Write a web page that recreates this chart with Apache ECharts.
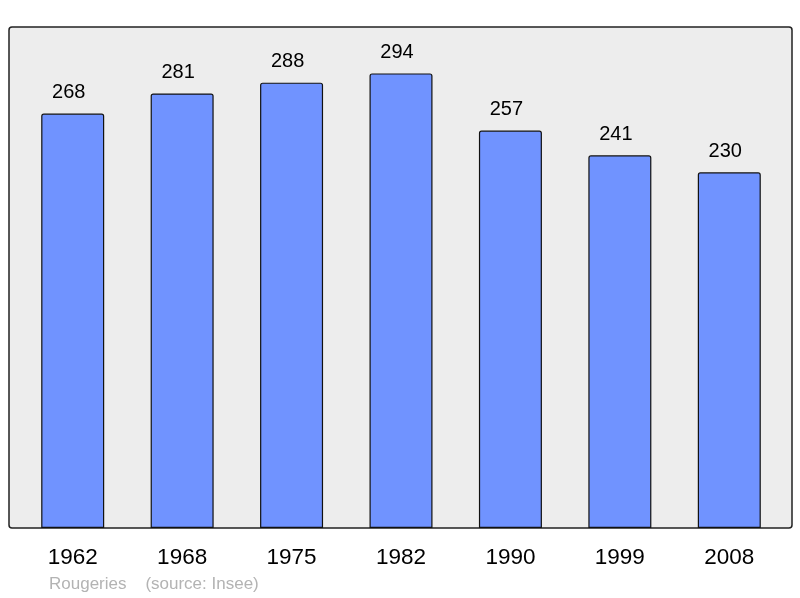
<!DOCTYPE html>
<html><head><meta charset="utf-8">
<script src="https://cdn.jsdelivr.net/npm/echarts@6/dist/echarts.min.js"></script>
<style>html,body{margin:0;padding:0;background:#fff}#c{width:800px;height:598px}</style>
</head><body><div id="c"></div>
<script>
const categories = ['1962','1968','1975','1982','1990','1999','2008'];
const population = [268,281,288,294,257,241,230];
const sourceText = 'Rougeries    (source: Insee)';

const chart = echarts.init(document.getElementById('c'), null, {renderer:'canvas'});
chart.setOption({
  animation:false,
  backgroundColor:'#ffffff',
  graphic:[
    {type:'rect', shape:{x:9,y:27,width:783,height:501,r:3}, style:{fill:'#ededed',stroke:'#222',lineWidth:1.5}, z:-10},
    {type:'text', left:49, top:576, style:{text:sourceText, fill:'#b3b3b3', font:'17px "Liberation Sans", Arial, sans-serif'}}
  ],
  grid:{left:18, right:16, top:27, bottom:70},
  xAxis:{type:'category', data:categories,
    axisLine:{show:false}, axisTick:{show:false},
    axisLabel:{color:'#000', fontSize:22.5, fontFamily:'Liberation Sans, Arial, sans-serif', margin:18}},
  yAxis:{type:'value', min:0, max:324, show:false, splitLine:{show:false}},
  series:[{type:'bar', data:population, barWidth:63,
    itemStyle:{color:'#7093ff', borderColor:'#111', borderWidth:1.2, borderRadius:[2,2,0,0]},
    label:{show:true, position:'top', distance:11, offset:[-4,0], color:'#000', fontSize:20, fontFamily:'Liberation Sans, Arial, sans-serif'}
  }]
});
</script></body></html>
